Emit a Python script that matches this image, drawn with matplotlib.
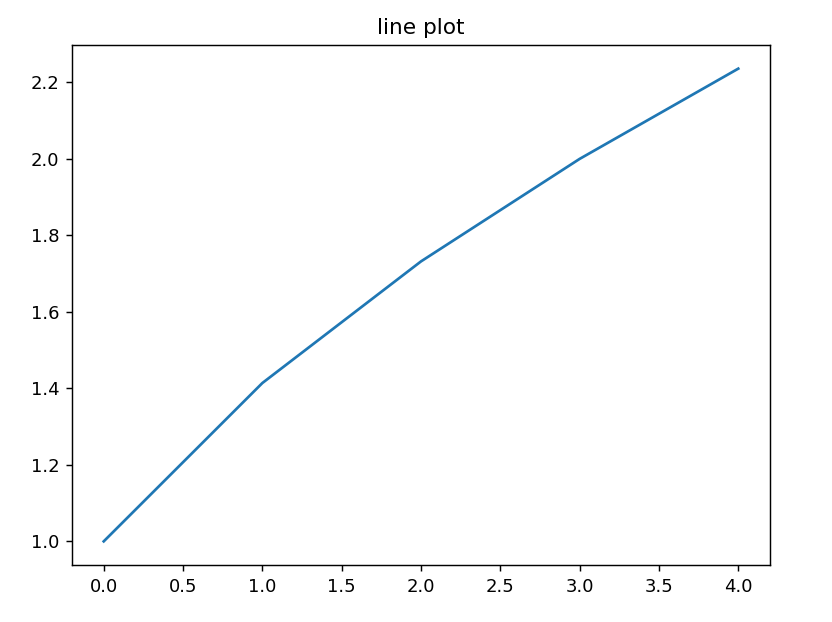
import matplotlib
matplotlib.use("Agg")
import matplotlib.pyplot as plt

x = [0, 1, 2, 3, 4]
y = [1.0, 1.414, 1.732, 2.0, 2.236]

fig = plt.figure(figsize=(6.4, 622 / 130), dpi=130)
ax = fig.add_axes([72 / 832, 1 - 565 / 622, (770 - 72) / 832, (565 - 45) / 622])
ax.plot(x, y)
ax.set_title("line plot")
fig.savefig("out.png", dpi=130)
